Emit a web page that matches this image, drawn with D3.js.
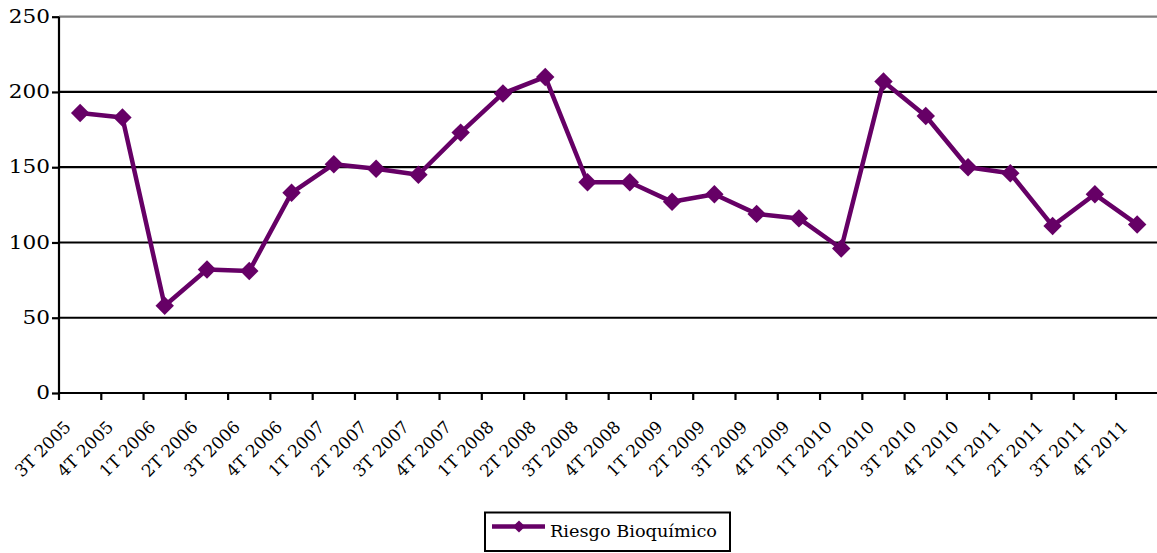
<!DOCTYPE html>
<html>
<head>
<meta charset="utf-8">
<script src="https://cdn.jsdelivr.net/npm/d3@7"></script>
<style>
  html, body { margin: 0; padding: 0; background: #fff; }
  svg { display: block; }
</style>
</head>
<body>
<svg id="chart" width="1157" height="553"></svg>
<script>
// Quarterly categories
const categories = [
  "3T 2005", "4T 2005",
  "1T 2006", "2T 2006", "3T 2006", "4T 2006",
  "1T 2007", "2T 2007", "3T 2007", "4T 2007",
  "1T 2008", "2T 2008", "3T 2008", "4T 2008",
  "1T 2009", "2T 2009", "3T 2009", "4T 2009",
  "1T 2010", "2T 2010", "3T 2010", "4T 2010",
  "1T 2011", "2T 2011", "3T 2011", "4T 2011"
];

// Series values: Riesgo Bioquímico
const riesgoBioquimico = [
  186, 183,
  58, 82, 81, 133,
  152, 149, 145, 173,
  199, 210, 140, 140,
  127, 132, 119, 116,
  96, 207, 184, 150,
  146, 111, 132, 112
];

const seriesName = "Riesgo Bioquímico";
const yTicks = [0, 50, 100, 150, 200, 250];

const FONT = "'DejaVu Serif', 'Liberation Serif', serif";
const lineColor = "#660066";
const svg = d3.select("#chart");

const plotLeft = 59, plotRight = 1158.3, plotTop = 16.7, plotBottom = 393;

const x = d3.scaleBand().domain(categories).range([plotLeft, plotRight]).paddingInner(0).paddingOuter(0);
const y = d3.scaleLinear().domain([0, 250]).range([plotBottom, plotTop]);
const cx = (i) => x(categories[i]) + x.bandwidth() / 2;

// Horizontal gridlines
svg.append("g").selectAll("line")
  .data(yTicks.filter(d => d > 0))
  .join("line")
  .attr("x1", plotLeft).attr("x2", plotRight)
  .attr("y1", d => y(d)).attr("y2", d => y(d))
  .attr("stroke", d => d === 250 ? "#7f7f7f" : "#000")
  .attr("stroke-width", 2.2);

// Y axis
const yAxis = svg.append("g")
  .attr("transform", `translate(${plotLeft},0)`)
  .call(d3.axisLeft(y).tickValues(yTicks).tickSize(7).tickPadding(2).tickFormat(d3.format("d")))
  .attr("font-family", FONT);
yAxis.select(".domain").attr("stroke", "#000").attr("stroke-width", 2.2)
  .attr("d", `M0,${plotBottom}V${plotTop}`);
yAxis.selectAll(".tick line").attr("stroke", "#000").attr("stroke-width", 2.2);
yAxis.selectAll(".tick text")
  .attr("font-size", 18)
  .attr("font-family", FONT)
  .attr("fill", "#000")
  .each(function () {
    // slightly wide numerals
    const w = this.getComputedTextLength();
    d3.select(this).attr("textLength", w * 1.2).attr("lengthAdjust", "spacingAndGlyphs");
  });

// X axis: ticks at category boundaries, labels rotated
const boundaries = categories.map(c => x(c));
const xg = svg.append("g");
xg.append("line")
  .attr("x1", plotLeft - 1).attr("x2", plotRight)
  .attr("y1", plotBottom).attr("y2", plotBottom)
  .attr("stroke", "#000").attr("stroke-width", 2.2);
xg.selectAll("line.tick")
  .data(boundaries)
  .join("line")
  .attr("class", "tick")
  .attr("x1", d => d).attr("x2", d => d)
  .attr("y1", plotBottom).attr("y2", plotBottom + 7)
  .attr("stroke", "#000").attr("stroke-width", 2.2);
xg.selectAll("text")
  .data(categories)
  .join("text")
  .attr("transform", c => `translate(${x(c) + 13},${plotBottom + 35}) rotate(-45)`)
  .attr("text-anchor", "end")
  .attr("font-family", FONT)
  .attr("font-size", 17)
  .text(c => c);

// Series line
const line = d3.line()
  .x((d, i) => cx(i))
  .y(d => y(d));

svg.append("path")
  .datum(riesgoBioquimico)
  .attr("d", line)
  .attr("fill", "none")
  .attr("stroke", lineColor)
  .attr("stroke-width", 4.5)
  .attr("stroke-linejoin", "round");

// Diamond markers
svg.append("g").selectAll("path")
  .data(riesgoBioquimico)
  .join("path")
  .attr("transform", (d, i) => `translate(${cx(i)},${y(d)}) rotate(45)`)
  .attr("d", d3.symbol().type(d3.symbolSquare).size(170))
  .attr("fill", lineColor);

// Legend
const lg = svg.append("g");
lg.append("rect")
  .attr("x", 485).attr("y", 512.5).attr("width", 245).attr("height", 38.5)
  .attr("fill", "#fff").attr("stroke", "#000").attr("stroke-width", 2);
lg.append("line")
  .attr("x1", 492).attr("x2", 545).attr("y1", 526.5).attr("y2", 526.5)
  .attr("stroke", lineColor).attr("stroke-width", 4.5);
lg.append("path")
  .attr("transform", "translate(519,526.5) rotate(45)")
  .attr("d", d3.symbol().type(d3.symbolSquare).size(75))
  .attr("fill", lineColor);
lg.append("text")
  .attr("x", 550).attr("y", 537)
  .attr("font-family", FONT)
  .attr("font-size", 17)
  .attr("textLength", 167)
  .attr("lengthAdjust", "spacingAndGlyphs")
  .text(seriesName);
</script>
</body>
</html>
